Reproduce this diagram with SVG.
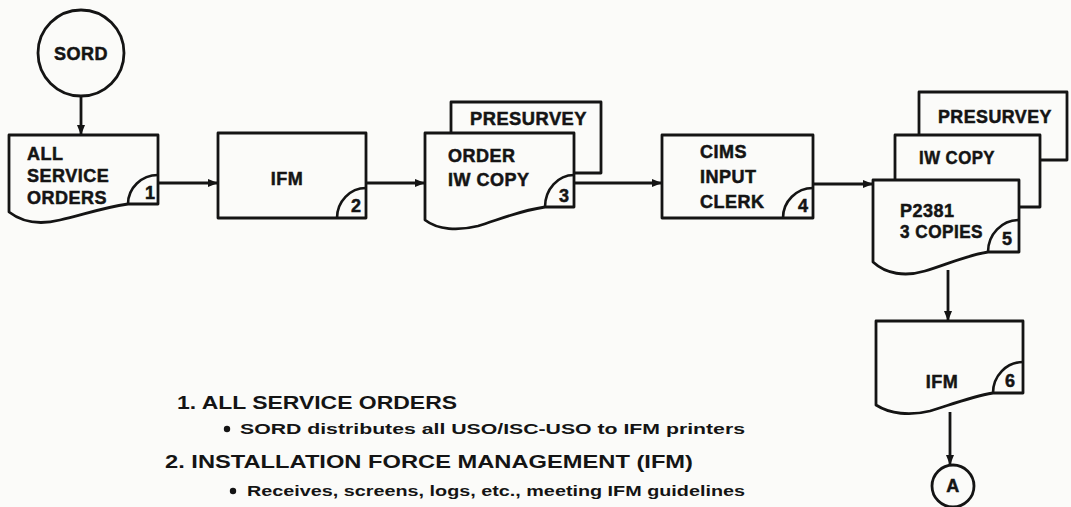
<svg xmlns="http://www.w3.org/2000/svg" width="1071" height="507" viewBox="0 0 1071 507">
<defs>
<marker id="ah" markerWidth="10" markerHeight="8" refX="9" refY="4" orient="auto" markerUnits="userSpaceOnUse">
<path d="M0,0 L10,4 L0,8 Z" fill="#141414"/>
</marker>
<style>
.s{fill:#fbfbf9;stroke:#141414;stroke-width:2.8;stroke-linejoin:round}
.a{fill:none;stroke:#141414;stroke-width:2.8}
.c{fill:none;stroke:#141414;stroke-width:2.6}
.l{fill:#141414;stroke:#141414;stroke-width:0.5;font-family:"Liberation Sans",Arial,sans-serif;font-weight:bold;font-size:18px;letter-spacing:0.5px}
.n{fill:#141414;stroke:#141414;stroke-width:0.5;font-family:"Liberation Sans Narrow","Liberation Sans",Arial,sans-serif;font-weight:bold;font-size:18px}
.t{fill:#141414;font-family:"Liberation Sans",Arial,sans-serif;font-weight:bold}
</style>
</defs>
<rect width="1071" height="507" fill="#fbfbf9"/>

<g id="connectors">
<line class="a" x1="81" y1="96" x2="81" y2="134" marker-end="url(#ah)"/>
<line class="a" x1="158" y1="183" x2="217" y2="183" marker-end="url(#ah)"/>
<line class="a" x1="366" y1="183" x2="424" y2="183" marker-end="url(#ah)"/>
<line class="a" x1="574" y1="183" x2="661" y2="183" marker-end="url(#ah)"/>
<line class="a" x1="813" y1="184" x2="872" y2="184" marker-end="url(#ah)"/>
<line class="a" x1="948" y1="270" x2="948" y2="320" marker-end="url(#ah)"/>
<line class="a" x1="950" y1="412" x2="950" y2="464" marker-end="url(#ah)"/>
</g>

<g id="sord">
<circle class="s" cx="81" cy="53" r="43"/>
<text class="l" x="81" y="60" text-anchor="middle" font-size="19">SORD</text>
</g>

<g id="node1">
<path class="s" d="M9,135 H158 V204 H128 C100,208 80,216 60,220 C40,225 22,222 9,212 Z"/>
<path class="c" d="M128,204 A30,29 0 0 1 158,175"/>
<text class="l" x="27" y="160">ALL</text>
<text class="l" x="27" y="182">SERVICE</text>
<text class="l" x="27" y="204">ORDERS</text>
<text class="n" x="150" y="199" text-anchor="middle">1</text>
</g>

<g id="node2">
<rect class="s" x="218" y="133" width="148" height="85"/>
<path class="c" d="M337,218 A29,30 0 0 1 366,188"/>
<text class="l" x="287" y="185" text-anchor="middle">IFM</text>
<text class="n" x="356" y="212" text-anchor="middle">2</text>
</g>

<g id="node3">
<rect class="s" x="451" y="102" width="150" height="71"/>
<text class="l" x="470" y="125" textLength="117" lengthAdjust="spacingAndGlyphs">PRESURVEY</text>
<path class="s" d="M425,133 H574 V207 H545 C518,211 498,220 478,226 C458,231 438,230 425,220 Z"/>
<path class="c" d="M545,207 A29,32 0 0 1 574,175"/>
<text class="l" x="448" y="162">ORDER</text>
<text class="l" x="448" y="186">IW COPY</text>
<text class="n" x="564" y="202" text-anchor="middle">3</text>
</g>

<g id="node4">
<rect class="s" x="662" y="135" width="151" height="83"/>
<path class="c" d="M783,218 A30,30 0 0 1 813,188"/>
<text class="l" x="700" y="158">CIMS</text>
<text class="l" x="700" y="183">INPUT</text>
<text class="l" x="700" y="208">CLERK</text>
<text class="n" x="803" y="212" text-anchor="middle">4</text>
</g>

<g id="node5">
<rect class="s" x="919" y="92" width="148" height="68"/>
<text class="l" x="938" y="123" textLength="114" lengthAdjust="spacingAndGlyphs">PRESURVEY</text>
<rect class="s" x="895" y="135" width="145" height="72"/>
<text class="l" x="919" y="164" textLength="76" lengthAdjust="spacingAndGlyphs">IW COPY</text>
<path class="s" d="M873,180 H1019 V252 H988 C965,256 945,265 925,271 C905,277 886,274 873,262 Z"/>
<path class="c" d="M988,252 A31,32 0 0 1 1019,220"/>
<text class="l" x="900" y="217">P2381</text>
<text class="l" x="900" y="238" textLength="83" lengthAdjust="spacingAndGlyphs">3 COPIES</text>
<text class="n" x="1007" y="245" text-anchor="middle">5</text>
</g>

<g id="node6">
<path class="s" d="M876,321 H1023 V393 H993 C970,397 950,405 930,411 C910,416 890,414 876,405 Z"/>
<path class="c" d="M993,393 A30,31 0 0 1 1023,362"/>
<text class="l" x="942" y="388" text-anchor="middle" font-size="16">IFM</text>
<text class="n" x="1010" y="387" text-anchor="middle" font-size="17">6</text>
</g>

<g id="a">
<circle class="s" cx="953" cy="486" r="21"/>
<text class="l" x="953" y="492" text-anchor="middle" font-size="17">A</text>
</g>

<g id="notes">
<text class="t" x="177" y="409" font-size="18" textLength="280" lengthAdjust="spacingAndGlyphs">1. ALL SERVICE ORDERS</text>
<circle cx="227" cy="429" r="3.2" fill="#141414"/>
<text class="t" x="240" y="434" font-size="15" textLength="505" lengthAdjust="spacingAndGlyphs">SORD distributes all USO/ISC-USO to IFM printers</text>
<text class="t" x="165" y="468" font-size="18" textLength="528" lengthAdjust="spacingAndGlyphs">2. INSTALLATION FORCE MANAGEMENT (IFM)</text>
<circle cx="233" cy="491" r="3.2" fill="#141414"/>
<text class="t" x="247" y="496" font-size="15" textLength="498" lengthAdjust="spacingAndGlyphs">Receives, screens, logs, etc., meeting IFM guidelines</text>
</g>
</svg>
